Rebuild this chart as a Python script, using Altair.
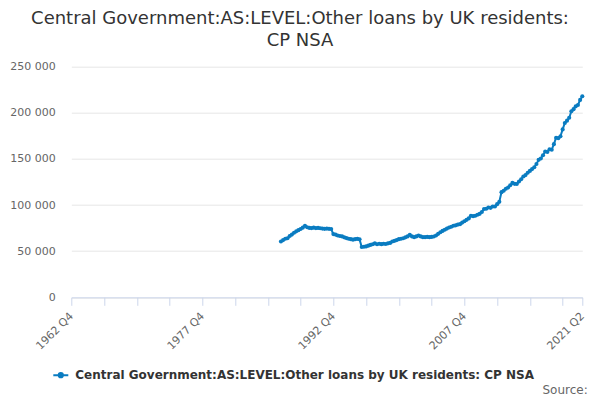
import altair as alt
import pandas as pd

# ---- categories: quarterly periods on the x axis ----
first_year, first_q = 1962, 4
last_year, last_q = 2021, 2
quarters = []
yy, qq = first_year, first_q
while (yy, qq) <= (last_year, last_q):
    quarters.append(f"{yy} Q{qq}")
    qq += 1
    if qq > 4:
        qq = 1
        yy += 1

tick_quarters = quarters[::15] + [quarters[-1]]
label_quarters = ["1962 Q4", "1977 Q4", "1992 Q4", "2007 Q4", "2021 Q2"]

series_name = "Central Government:AS:LEVEL:Other loans by UK residents: CP NSA"
data_start = "1986 Q4"
values = [
    60500, 62000, 63500, 64000, 66500, 68000, 70000, 71500, 72800, 74000,
    75500, 77500, 76000, 75200, 75000, 75500, 75000, 75200, 74800, 74500,
    74200, 74500, 74200, 74000, 68500, 68000, 67000, 66500, 66000, 65000,
    64200, 63500, 63000, 62500, 63000, 63400, 62800, 54500, 54800, 55200,
    56000, 56800, 57500, 58500, 57500, 58000, 57600, 58000, 57800, 58500,
    59000, 60500, 61200, 62000, 63000, 63500, 64000, 65000, 66000, 67700,
    66000, 65200, 66000, 67000, 66000, 65200, 65200, 65500, 65200, 65500,
    65900, 67000, 68800, 70500, 72000, 73200, 74500, 75700, 76500, 77500,
    78000, 78800, 79300, 81000, 82500, 84000, 85500, 88400, 88000, 88400,
    89500, 90500, 92500, 95700, 96000, 97400, 97000, 98500, 98500, 101000,
    103500, 114000, 115500, 117700, 119000, 121500, 124000, 123000, 122800, 125500,
    128000, 131000, 132500, 135000, 137000, 139000, 141000, 144500, 149000, 150500,
    154000, 158000, 157500, 160500, 160000, 166000, 173000, 172500, 174600, 182000,
    189000, 191500, 194600, 201700, 204000, 207000, 208500, 214000, 218000,
]
y_ticks = [0, 50000, 100000, 150000, 200000, 250000]

i0 = quarters.index(data_start)
periods = quarters[i0:i0 + len(values)]
df = pd.DataFrame({"period": periods, "value": values, "series": series_name})

FONT = "DejaVu Sans"
LINE_COLOR = "#0a7cc1"
label_list = ",".join(f"'{q}'" for q in label_quarters)

line = alt.Chart(df).mark_line(
    strokeWidth=2,
    point=alt.OverlayMarkDef(filled=True, size=17, color=LINE_COLOR),
).encode(
    x=alt.X(
        "period:O",
        scale=alt.Scale(type="point", domain=quarters, padding=0),
        sort=None,
        title=None,
        axis=alt.Axis(
            values=tick_quarters,
            labelExpr=f"indexof([{label_list}], datum.value) >= 0 ? datum.value : ''",
            labelAngle=-45,
            labelAlign="right",
            labelBaseline="middle",
            labelPadding=9,
            labelColor="#666666",
            labelFontSize=11,
            labelFont=FONT,
            labelOverlap=False,
            domainColor="#ccd6eb",
            tickColor="#ccd6eb",
            tickSize=8,
            grid=False,
        ),
    ),
    y=alt.Y(
        "value:Q",
        scale=alt.Scale(domain=[0, 250000], nice=False),
        title=None,
        axis=alt.Axis(
            values=y_ticks,
            labelExpr="replace(format(datum.value, ','), ',', ' ')",
            domain=False,
            ticks=False,
            grid=True,
            gridColor="#e6e6e6",
            labelColor="#666666",
            labelFontSize=11,
            labelFont=FONT,
            labelPadding=16,
        ),
    ),
    color=alt.Color(
        "series:N",
        scale=alt.Scale(range=[LINE_COLOR]),
        legend=alt.Legend(
            title=None,
            orient="none",
            legendX=-19,
            legendY=300,
            padding=0,
            labelFont=FONT,
            labelFontSize=12,
            labelFontWeight="bold",
            labelColor="#333333",
            labelLimit=0,
            labelOffset=6,
            symbolType="M-1,0L1,0M-0.28,0A0.28,0.28,0,1,0,0.28,0A0.28,0.28,0,1,0,-0.28,0",
            symbolSize=225,
            symbolStrokeWidth=2,
            symbolFillColor=LINE_COLOR,
            symbolStrokeColor=LINE_COLOR,
        ),
    ),
)

source = alt.Chart(pd.DataFrame({"t": ["Source:"]})).mark_text(
    align="right", baseline="alphabetic", font=FONT, fontSize=12, color="#666666"
).encode(
    x=alt.value(516.4),
    y=alt.value(327),
    text="t:N",
)

chart = alt.layer(line, source).properties(
    width=511,
    height=230.6,
    autosize="none",
    padding={"left": 63.3, "top": 58.7, "right": 9.7, "bottom": 98},
    title=alt.TitleParams(
        text=["Central Government:AS:LEVEL:Other loans by UK residents:", "CP NSA"],
        font=FONT,
        fontSize=18,
        fontWeight="normal",
        color="#333333",
        anchor="middle",
        dx=-26.8,
        dy=23,
        lineHeight=22,
        baseline="bottom",
        offset=16,
    ),
).configure_view(stroke=None)

chart.save("out.html", embed_options={"renderer": "svg", "actions": False})
